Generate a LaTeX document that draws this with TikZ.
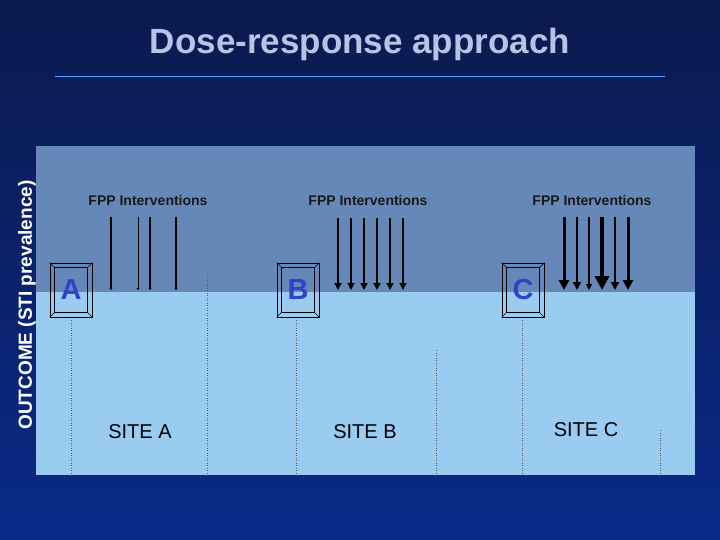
\documentclass[tikz,border=0pt]{standalone}
\usepackage{fontspec}
\setmainfont{Liberation Sans}
\usetikzlibrary{arrows.meta}
\definecolor{navyA}{HTML}{0B1A4E}
\definecolor{navyB}{HTML}{0A2A88}
\definecolor{bandTop}{HTML}{6688B8}
\definecolor{bandBot}{HTML}{99CCF0}
\definecolor{letterC}{HTML}{3340C8}
\definecolor{titleC}{HTML}{B8C4E4}
\begin{document}
\begin{tikzpicture}[x=1pt,y=-1pt,
  fpp/.style={font=\bfseries\fontsize{14}{17}\selectfont,text=black!90},
  site/.style={font=\fontsize{20}{22}\selectfont,text=black},
  frame/.style={draw=black,line width=0.7pt,minimum width=42pt,minimum height=54pt,inner sep=0pt},
  letter/.style={font=\bfseries\fontsize{29}{32}\selectfont,text=letterC},
  dot/.style={draw=gray!70!black,line width=0.5pt,dotted}]
\useasboundingbox (0,0) rectangle (720,540);
\shade[top color=navyA,bottom color=navyB] (0,0) rectangle (720,540);
\node[font=\bfseries\fontsize{35}{40}\selectfont,text=titleC] (title) at (360,44) {Dose-response approach};
\draw[draw=blue!50!cyan!70!white,line width=1pt] (55,77) -- (665,77);
\fill[bandTop] (36,146) rectangle (695,292);
\fill[bandBot] (36,292) rectangle (695,475);
\node[rotate=90,font=\bfseries\fontsize{19}{22}\selectfont,text=white] (ylab) at (27,305) {OUTCOME (STI prevalence)};
\foreach \x/\y in {71/320,207/275,296/320,436/350,522/320,660/430}
  \draw[dot] (\x,\y) -- (\x,475);
\foreach \n/\x/\l in {fa/71/A,fb/298/B,fc/523/C}{
  \node[frame] (\n) at (\x,290) {};
  \draw[line width=0.6pt] ([shift={(5,5)}]\n.north west) rectangle ([shift={(-5,-5)}]\n.south east);
  \draw[line width=0.5pt] (\n.north west) -- ++(5,5) (\n.north east) -- ++(-5,5)
     (\n.south west) -- ++(5,-5) (\n.south east) -- ++(-5,-5);
  \node[letter] (l\n) at (\x,290) {\l};
}
\node[fpp] (pa) at (148,200) {FPP Interventions};
\node[fpp] (pb) at (368,200) {FPP Interventions};
\node[fpp] (pc) at (592,200) {FPP Interventions};
\foreach \x/\w in {111/1.2,138/1,150/1.6,176/1.5}{
  \coordinate (as\x) at (\x,217); \coordinate (ae\x) at (\x,290);
  \draw[line width=\w pt,-{Triangle[length=2pt,width=3pt]}] (as\x) -- (ae\x);}
\foreach \x/\w in {338/2.4,351/1.2,364/2.4,377/2.2,390/1.6,403/1.2}{
  \coordinate (bs\x) at (\x,218); \coordinate (be\x) at (\x,290);
  \draw[line width=\w pt,-{Triangle[length=7pt,width=7pt]}] (bs\x) -- (be\x);}
\foreach \x/\w/\h in {564/3/10,577/2.5/8,589/1.2/6,602/3.5/14,615/2/8,628/3/10}{
  \coordinate (cs\x) at (\x,217); \coordinate (ce\x) at (\x,290);
  \draw[line width=\w pt,-{Triangle[length=\h pt,width=\h pt]}] (cs\x) -- (ce\x);}
\node[site] (sa) at (140,432) {SITE A};
\node[site] (sb) at (365,432) {SITE B};
\node[site] (sc) at (586,430) {SITE C};
\end{tikzpicture}
\end{document}
